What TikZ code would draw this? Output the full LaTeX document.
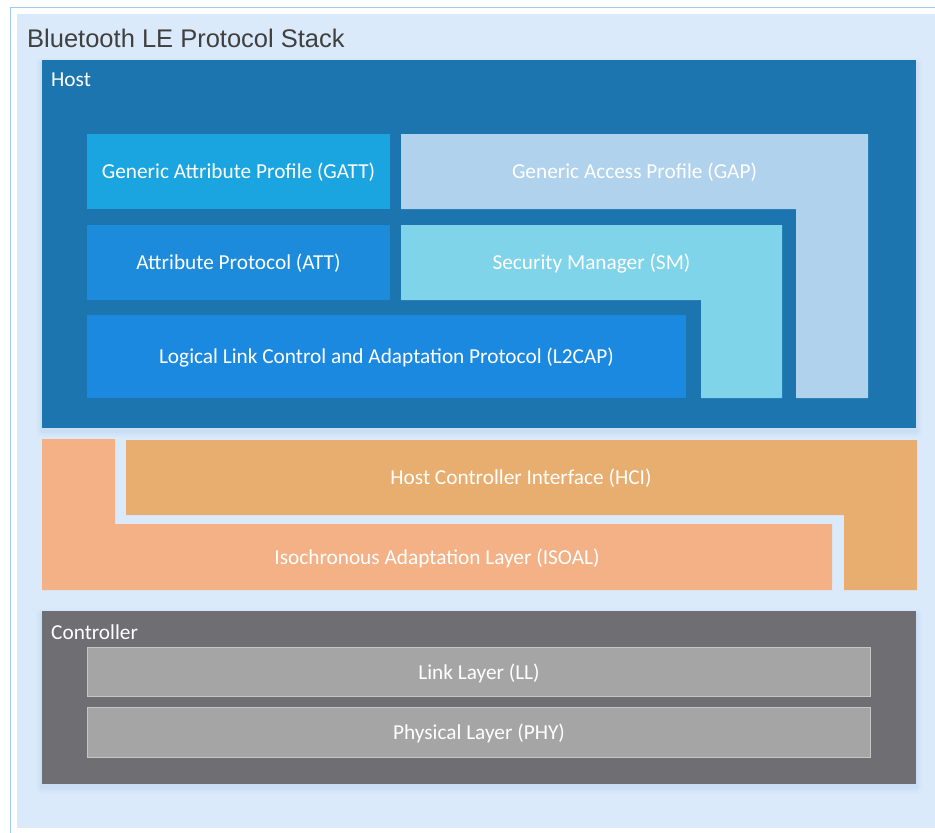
\documentclass[tikz,border=0pt]{standalone}
\usepackage{fontspec}
\setmainfont{Carlito}
\newfontfamily\titlefont{Liberation Sans}
\definecolor{bgfill}{HTML}{DAEAFB}
\definecolor{bgline}{HTML}{A3C8EA}
\definecolor{hostc}{HTML}{1D75B0}
\definecolor{gattc}{HTML}{1BA5E0}
\definecolor{attc}{HTML}{1C8BDB}
\definecolor{ltcapc}{HTML}{1B89E0}
\definecolor{gapc}{HTML}{B0D2EC}
\definecolor{smc}{HTML}{7FD4EA}
\definecolor{hcic}{HTML}{E8AE70}
\definecolor{isoc}{HTML}{F3B185}
\definecolor{ctrlc}{HTML}{6E6E73}
\definecolor{llc}{HTML}{A5A5A5}
\definecolor{llline}{HTML}{C6C6C6}
\definecolor{titlec}{HTML}{404040}
\definecolor{shadowc}{HTML}{B4CFEE}
\tikzset{
  lbl/.style={text=white, font=\fontsize{21.3}{23}\selectfont, inner sep=0pt, anchor=center},
  grouplbl/.style={text=white, font=\fontsize{21.3}{23}\selectfont, inner sep=0pt, anchor=base west},
  graybox/.style={fill=llc, draw=llline, line width=1pt},
}
\begin{document}
\begin{tikzpicture}[x=1pt,y=-1pt]
\useasboundingbox (0,0) rectangle (935,833);
\clip (0,0) rectangle (935,833);
% outer frame
\fill[white] (0,0) rectangle (935,833);
\draw[bgline, line width=1.5pt] (10.5,7.5) rectangle (960,860);
\fill[bgfill] (17,14) rectangle (960,828);
\node[text=titlec, font=\titlefont\fontsize{25.5}{28}\selectfont, anchor=base west, inner sep=0pt] (title) at (27,47) {Bluetooth LE Protocol Stack};
% soft shadows
\foreach \o/\k in {6/0.10,4/0.15,2/0.2}{
  \fill[shadowc, opacity=\k, rounded corners=\o pt] (42-\o,60-\o+4) rectangle (916+\o,428+\o+3);
  \fill[shadowc, opacity=\k, rounded corners=\o pt] (42-\o,611-\o+4) rectangle (916+\o,784+\o+3);
}
% Host
\fill[hostc] (42,60) rectangle (916,428);
\node[grouplbl] (host) at (51,86) {Host};
% GATT
\fill[gattc] (87,134) rectangle (390,209);
\node[lbl] (gatt) at (238.5,172.5) {Generic Attribute Profile (GATT)};
% GAP (L-shape)
\fill[gapc] (401,134) -- (868,134) -- (868,398) -- (796,398) -- (796,209) -- (401,209) -- cycle;
\node[lbl] (gap) at (634.5,172.5) {Generic Access Profile (GAP)};
% ATT
\fill[attc] (87,225) rectangle (390,300);
\node[lbl] (att) at (238.5,263.5) {Attribute Protocol (ATT)};
% SM (L-shape)
\fill[smc] (401,225) -- (782,225) -- (782,398) -- (701,398) -- (701,300) -- (401,300) -- cycle;
\node[lbl] (sm) at (591.5,263.5) {Security Manager (SM)};
% L2CAP
\fill[ltcapc] (87,315) rectangle (686,398);
\node[lbl] (l2cap) at (386.5,357.5) {Logical Link Control and Adaptation Protocol (L2CAP)};
% ISOAL (L-shape)
\fill[isoc] (42,439) -- (115,439) -- (115,524) -- (832,524) -- (832,590) -- (42,590) -- cycle;
\node[lbl] (isoal) at (437,558) {Isochronous Adaptation Layer (ISOAL)};
% HCI (L-shape)
\fill[hcic] (126,440) -- (917,440) -- (917,590) -- (844,590) -- (844,515) -- (126,515) -- cycle;
\node[lbl] (hci) at (521,478) {Host Controller Interface (HCI)};
% Controller
\fill[ctrlc] (42,611) rectangle (916,784);
\node[grouplbl] (ctrl) at (51,639) {Controller};
\draw[graybox] (87.5,647.5) rectangle (870.5,696.5);
\node[lbl] (ll) at (479,673) {Link Layer (LL)};
\draw[graybox] (87.5,707.5) rectangle (870.5,757.5);
\node[lbl] (phy) at (479,733.5) {Physical Layer (PHY)};
\end{tikzpicture}
\end{document}
